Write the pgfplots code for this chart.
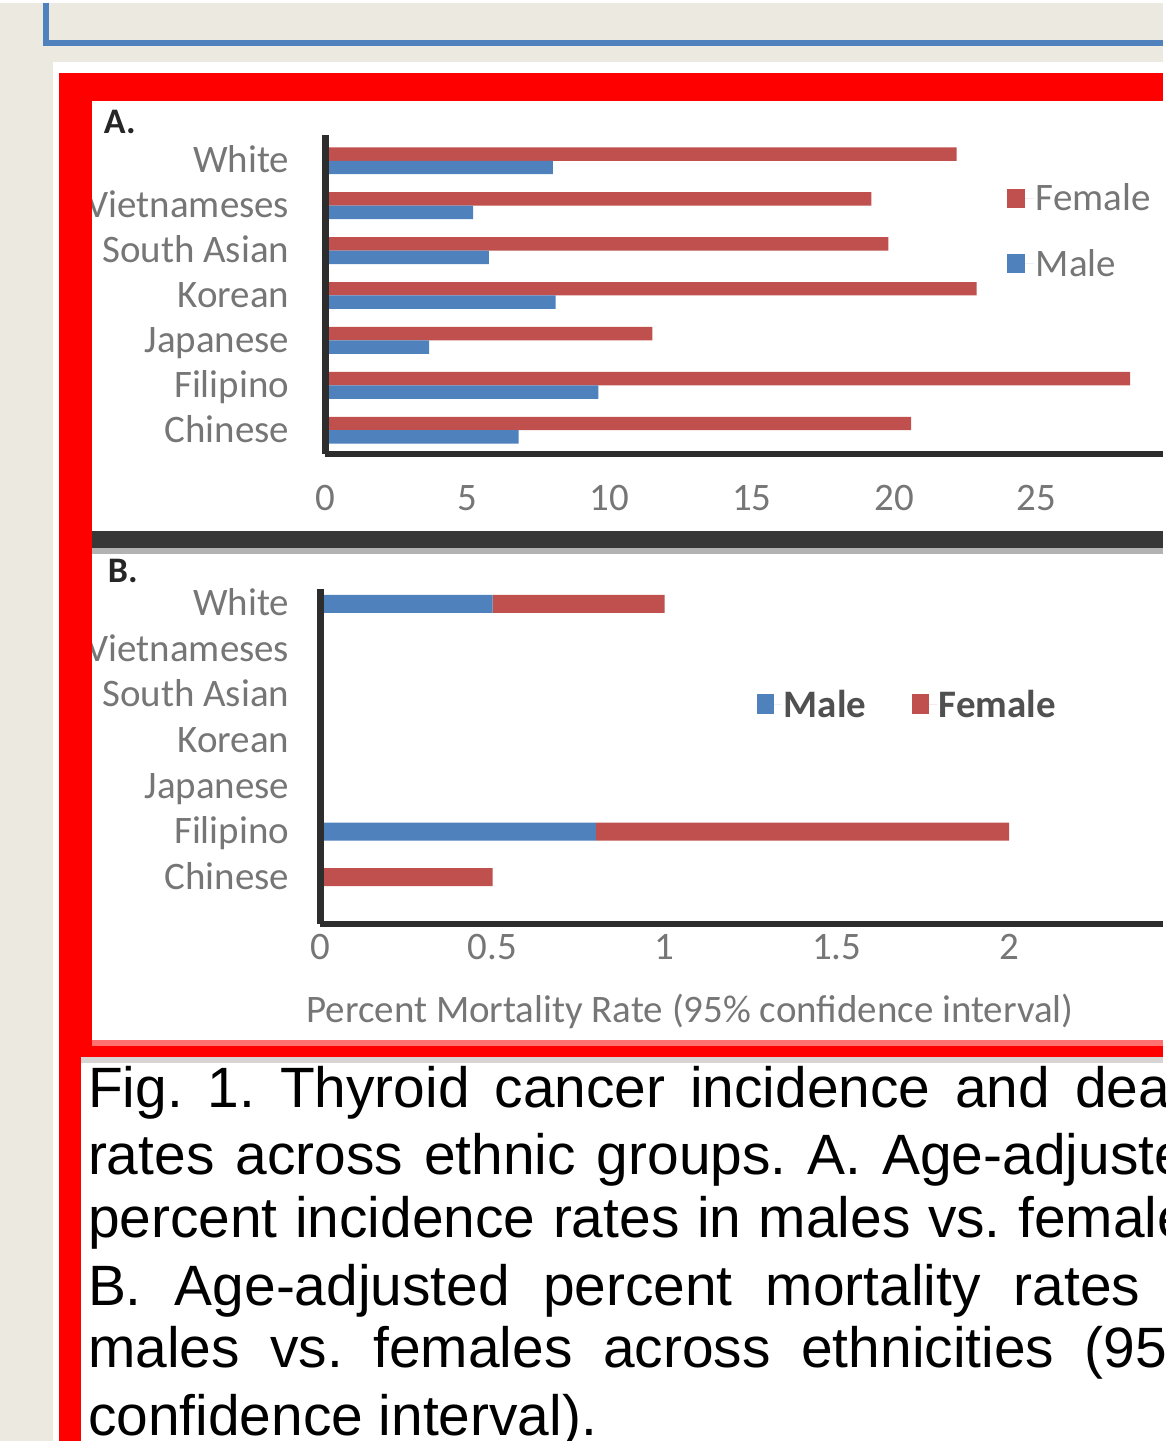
\documentclass[border=0pt]{standalone}
\usepackage{fontspec}
\setmainfont{Carlito}
\newfontfamily\capfont{Liberation Sans}
\usepackage{pgfplots}
\pgfplotsset{compat=1.18}
\definecolor{bgbeige}{RGB}{236,234,224}
\definecolor{frameblue}{RGB}{79,129,189}
\definecolor{xlred}{RGB}{192,80,77}
\definecolor{xlblue}{RGB}{79,129,189}
\definecolor{lblgray}{RGB}{118,118,118}
\definecolor{leggray}{RGB}{80,80,80}
\definecolor{axdark}{RGB}{45,45,45}
\definecolor{sepdark}{RGB}{55,55,55}
\definecolor{pinkline}{RGB}{255,112,112}
\definecolor{capgray}{RGB}{216,212,212}
\frenchspacing
\begin{document}
\begin{tikzpicture}
\fill[bgbeige] (0pt,0pt) rectangle (1165pt,1441pt);
\draw[frameblue, line width=6pt] (46pt,1441pt) -- (46pt,1401pt) -- (1165pt,1401pt);
\fill[white] (53pt,0pt) rectangle (1165pt,1382pt);
\fill[red] (59pt,0pt) rectangle (1165pt,1371pt);
% panel A
\fill[white] (92pt,912pt) rectangle (1165pt,1343pt);
% separator
\fill[sepdark] (92pt,895pt) rectangle (1165pt,912pt);
\fill[gray!60] (92pt,889pt) rectangle (1165pt,895pt);
% panel B
\fill[white] (92pt,402pt) rectangle (1165pt,889pt);
\fill[pinkline] (92pt,396pt) rectangle (1165pt,402pt);
% caption box
\fill[capgray] (81pt,379pt) rectangle (1165pt,385pt);
\fill[white] (81pt,0pt) rectangle (1165pt,379pt);

\node[anchor=base west, inner sep=0pt, font=\bfseries\fontsize{36}{36}\selectfont, text=black!85] at (104pt,1310pt) {A.};
\node[anchor=base west, inner sep=0pt, font=\bfseries\fontsize{36}{36}\selectfont, text=black!85] at (108pt,860pt) {B.};

% ---------- Panel A ----------
\begin{axis}[
  at={(326pt,989pt)}, anchor=south west,
  scale only axis, width=839pt, height=320pt,
  xmin=0, xmax=29.44, ymin=-0.53, ymax=6.58,
  xbar, bar width=13.5pt,
  axis on top,
  axis x line*=bottom, axis y line*=left,
  axis line style={axdark, line width=6.5pt, -},
  xtick={0,5,10,15,20,25}, ytick={0,1,2,3,4,5,6},
  yticklabels={Chinese,Filipino,Japanese,Korean,South Asian,Vietnameses,White},
  major tick length=0pt,
  tick label style={font=\fontsize{39}{39}\selectfont, text=lblgray},
  /pgf/number format/assume math mode=true,
  xticklabel style={anchor=base, yshift=-57pt, inner sep=0pt},
  yticklabel style={anchor=base east, xshift=-36pt, yshift=-12pt, inner sep=0pt},
  legend style={at={(0.814,0.853)}, anchor=north west, draw=none, fill=none,
    inner sep=0pt, row sep=33pt, font=\fontsize{39}{39}\selectfont, text=lblgray,
    nodes={inner sep=2pt}},
  legend cell align=left,
  legend image code/.code={\fill[#1] (0pt,-9.5pt) rectangle (18pt,9.5pt); \path (0pt,0pt) -- (27pt,0pt);},
]
\addplot[fill=xlred, draw=none, bar shift=6.75pt] coordinates {(20.6,0) (28.3,1) (11.5,2) (22.9,3) (19.8,4) (19.2,5) (22.2,6)};
\addlegendentry{Female}
\addplot[fill=xlblue, draw=none, bar shift=-6.75pt] coordinates {(6.8,0) (9.6,1) (3.65,2) (8.1,3) (5.75,4) (5.2,5) (8.0,6)};
\addlegendentry{Male}
\end{axis}

% ---------- Panel B ----------
\begin{axis}[
  at={(321pt,518pt)}, anchor=south west,
  scale only axis, width=844pt, height=336pt,
  xmin=0, xmax=2.446, ymin=-1.03, ymax=6.33,
  xbar stacked, bar width=18pt,
  axis on top,
  axis x line*=bottom, axis y line*=left,
  axis line style={axdark, line width=6.5pt, -},
  xtick={0,0.5,1,1.5,2}, ytick={0,1,2,3,4,5,6},
  yticklabels={Chinese,Filipino,Japanese,Korean,South Asian,Vietnameses,White},
  major tick length=0pt,
  tick label style={font=\fontsize{39}{39}\selectfont, text=lblgray},
  /pgf/number format/assume math mode=true,
  xticklabel style={anchor=base, yshift=-35.5pt, inner sep=0pt},
  yticklabel style={anchor=base east, xshift=-31pt, yshift=-12pt, inner sep=0pt},
  xlabel={\makebox[850pt][l]{Percent Mortality Rate (95\% confidence interval)}},
  xlabel style={at={(axis description cs:-0.0166,0)}, anchor=base west, yshift=-99pt,
    inner sep=0pt, font=\fontsize{39}{39}\selectfont, text=lblgray},
  legend style={at={(0.518,0.655)}, anchor=west, draw=none, fill=none,
    inner sep=0pt, font=\bfseries\fontsize{39}{39}\selectfont, text=leggray,
    nodes={inner sep=2pt}, /tikz/every even column/.append style={column sep=44pt}},
  legend columns=2,
  legend image code/.code={\fill[#1] (0pt,-10pt) rectangle (17pt,10pt); \path (0pt,0pt) -- (25pt,0pt);},
]
\addplot[fill=xlblue, draw=none] coordinates {(0,0) (0.8,1) (0,2) (0,3) (0,4) (0,5) (0.5,6)};
\addlegendentry{Male}
\addplot[fill=xlred, draw=none] coordinates {(0.5,0) (1.2,1) (0,2) (0,3) (0,4) (0,5) (0.5,6)};
\addlegendentry{Female}
\end{axis}

% red frame strip in front of the overhanging label
\fill[red] (59pt,402pt) rectangle (92pt,1343pt);

% ---------- Caption ----------
\begin{scope}[every node/.style={anchor=base west, inner sep=0pt, text depth=0pt, font=\capfont\fontsize{57}{57}\selectfont}]
\node at (88pt,334pt) {\makebox[1070pt][l]{\makebox[1132pt][s]{Fig. 1. Thyroid cancer incidence and death}}};
\node at (88pt,267pt) {\makebox[1070pt][l]{\makebox[1132pt][s]{rates across ethnic groups. A. Age-adjusted}}};
\node at (88pt,204pt) {\makebox[1070pt][l]{\makebox[1132pt][s]{percent incidence rates in males vs. females}}};
\node at (88pt,136pt) {\makebox[1070pt][l]{\makebox[1132pt][s]{B. Age-adjusted percent mortality rates in}}};
\node at (88pt,74pt) {\makebox[1070pt][l]{\makebox[1132pt][s]{males vs. females across ethnicities (95\%}}};
\node at (88pt,6pt) {confidence interval).};
\end{scope}
\end{tikzpicture}
\end{document}
